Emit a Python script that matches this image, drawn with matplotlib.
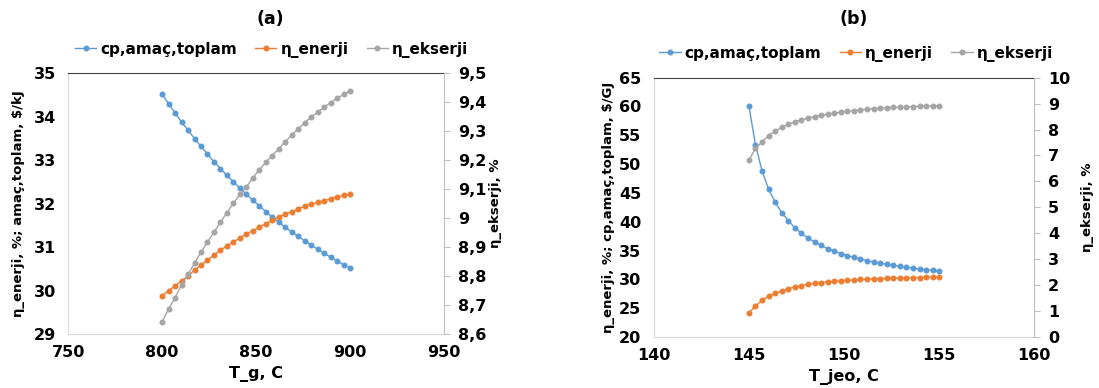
import numpy as np
import matplotlib.pyplot as plt
from matplotlib.ticker import MultipleLocator, FuncFormatter

plt.rcParams['font.family'] = ['DejaVu Sans']
plt.rcParams['font.weight'] = 'bold'
plt.rcParams['axes.labelweight'] = 'bold'

# panel (a): generator temperature
t_g = [800, 803.45, 806.9, 810.34, 813.79, 817.24, 820.69, 824.14, 827.59, 831.03,
       834.48, 837.93, 841.38, 844.83, 848.28, 851.72, 855.17, 858.62, 862.07, 865.52,
       868.97, 872.41, 875.86, 879.31, 882.76, 886.21, 889.66, 893.1, 896.55, 900]
cp_a = [34.52, 34.30, 34.09, 33.88, 33.69, 33.50, 33.32, 33.14, 32.97, 32.81,
        32.65, 32.50, 32.36, 32.22, 32.08, 31.95, 31.82, 31.69, 31.57, 31.46,
        31.35, 31.25, 31.15, 31.05, 30.95, 30.86, 30.77, 30.68, 30.60, 30.52]
en_a = [29.88, 30.00, 30.11, 30.22, 30.34, 30.47, 30.59, 30.70, 30.82, 30.93,
        31.03, 31.12, 31.21, 31.30, 31.38, 31.46, 31.54, 31.62, 31.69, 31.76,
        31.82, 31.88, 31.94, 31.99, 32.03, 32.07, 32.11, 32.15, 32.19, 32.22]
ex_a = [8.642, 8.686, 8.726, 8.769, 8.806, 8.844, 8.883, 8.917, 8.952, 8.986,
        9.019, 9.051, 9.082, 9.108, 9.139, 9.167, 9.193, 9.216, 9.240, 9.263,
        9.288, 9.308, 9.330, 9.349, 9.366, 9.383, 9.399, 9.414, 9.427, 9.440]

# panel (b): geothermal temperature
t_jeo = [145, 145.34, 145.69, 146.03, 146.38, 146.72, 147.07, 147.41, 147.76, 148.1,
         148.45, 148.79, 149.14, 149.48, 149.83, 150.17, 150.52, 150.86, 151.21, 151.55,
         151.9, 152.24, 152.59, 152.93, 153.28, 153.62, 153.97, 154.31, 154.66, 155]
cp_b = [60.0, 53.4, 48.8, 45.7, 43.4, 41.6, 40.2, 39.0, 38.0, 37.2,
        36.5, 35.9, 35.35, 34.9, 34.5, 34.15, 33.82, 33.53, 33.27, 33.03,
        32.82, 32.62, 32.44, 32.27, 32.11, 31.96, 31.82, 31.69, 31.57, 31.45]
en_b = [24.2, 25.4, 26.4, 27.1, 27.6, 28.0, 28.4, 28.7, 28.95, 29.15,
        29.32, 29.46, 29.58, 29.69, 29.78, 29.86, 29.93, 30.0, 30.05, 30.1,
        30.14, 30.18, 30.22, 30.25, 30.28, 30.31, 30.33, 30.35, 30.37, 30.39]
ex_b = [6.82, 7.27, 7.52, 7.76, 7.94, 8.08, 8.20, 8.30, 8.37, 8.44,
        8.49, 8.55, 8.59, 8.62, 8.66, 8.70, 8.73, 8.76, 8.78, 8.80,
        8.82, 8.84, 8.85, 8.86, 8.87, 8.88, 8.89, 8.90, 8.91, 8.92]

labels = ["cp,amaç,toplam", "η_enerji", "η_ekserji"]
colors = ["#5B9BD5", "#ED7D31", "#A5A5A5"]


def comma(v, pos):
    return f"{v:.1f}".rstrip('0').rstrip('.').replace('.', ',')


all_axes = []


def panel(rect, x, cp, en, ex, xlim, xstep, ylim, ystep, y2lim, y2step,
          xlabel, ylabel, title, title_x, leg_x, leg_y, ylpad, y2lpad):
    ax = fig.add_axes(rect)
    ax2 = ax.twinx()
    all_axes.extend([ax, ax2])
    h1, = ax.plot(x, cp, color=colors[0], marker='o', ms=3.3, lw=1, label=labels[0])
    h2, = ax.plot(x, en, color=colors[1], marker='o', ms=3.3, lw=1, label=labels[1])
    h3, = ax2.plot(x, ex, color=colors[2], marker='o', ms=3.3, lw=1, label=labels[2])

    ax.set_xlim(*xlim)
    ax.set_ylim(*ylim)
    ax2.set_ylim(*y2lim)
    ax.xaxis.set_major_locator(MultipleLocator(xstep))
    ax.yaxis.set_major_locator(MultipleLocator(ystep))
    ax2.yaxis.set_major_locator(MultipleLocator(y2step))
    ax2.yaxis.set_major_formatter(FuncFormatter(comma))

    for s in ['left', 'bottom']:
        ax.spines[s].set_color('#D9D9D9')
    ax.spines['top'].set_color('#404040')
    ax.spines['right'].set_visible(False)
    for s in ['left', 'bottom', 'top']:
        ax2.spines[s].set_visible(False)
    ax2.spines['right'].set_color('#BFBFBF')

    ax.tick_params(axis='both', length=0, labelsize=11.5)
    ax.tick_params(axis='y', pad=9)
    ax.tick_params(axis='x', pad=8)
    ax2.tick_params(axis='y', length=4, color='#BFBFBF', labelsize=11.5, pad=6)

    ax.set_xlabel(xlabel, fontsize=11.5, labelpad=4, fontweight='bold')
    ax.set_ylabel(ylabel, fontsize=9.5, labelpad=ylpad, fontweight='bold')
    ax2.set_ylabel(y2lpad[0], fontsize=9.5, labelpad=y2lpad[1], fontweight='bold')

    fig.text(title_x, 0.952, title, ha='center', va='center', fontsize=12.5,
             fontweight='bold')
    fig.legend([h1, h2, h3], labels, loc='center', bbox_to_anchor=(leg_x, leg_y),
               ncol=3, frameon=False, handlelength=1.4,
               handletextpad=0.25, columnspacing=1.2,
               prop={'size': 11, 'weight': 'bold'})


fig = plt.figure(figsize=(10.99, 3.88), dpi=100)

panel([0.062, 0.139, 0.342, 0.672], t_g, cp_a, en_a, ex_a,
      (750, 950), 50, (29, 35), 1, (8.6, 9.5), 0.1,
      "T_g, C", "η_enerji, %; amaç,toplam, $/kJ", "(a)", 0.246, 0.247, 0.872,
      6, ("η_ekserji, %", 2))

panel([0.595, 0.131, 0.346, 0.669], t_jeo, cp_b, en_b, ex_b,
      (140, 160), 5, (20, 65), 5, (0, 10), 1,
      "T_jeo, C", "η_enerji, %; cp,amaç,toplam, $/GJ", "(b)", 0.777, 0.779, 0.862,
      3, ("η_ekserji, %", 8))

# make the tick labels bold once they exist
fig.canvas.draw()
for a in all_axes:
    for t in a.get_xticklabels() + a.get_yticklabels():
        t.set_fontweight('bold')

plt.savefig("out.png", dpi=100)
